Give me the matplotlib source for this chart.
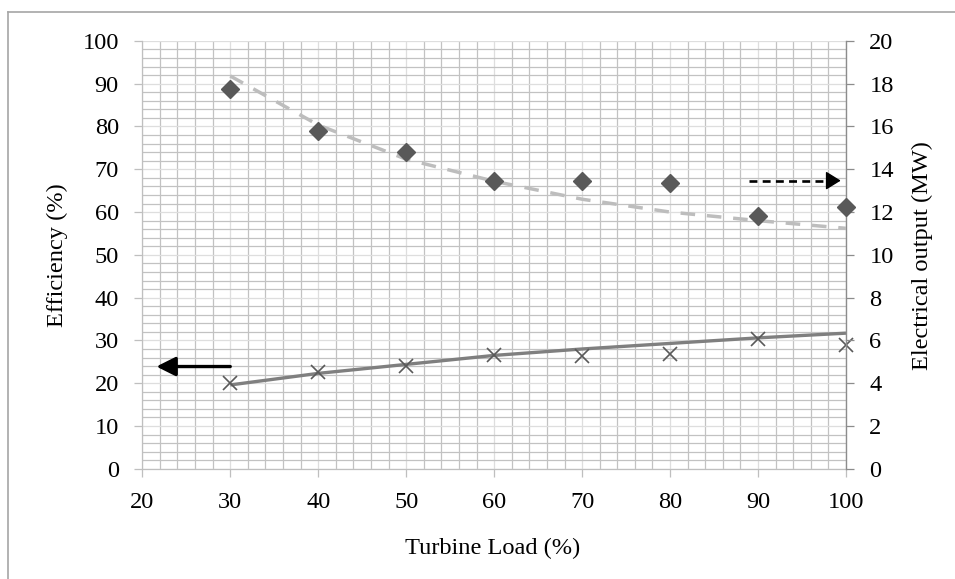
import matplotlib
matplotlib.use("Agg")
import matplotlib.pyplot as plt
from matplotlib.lines import Line2D
from matplotlib.ticker import MultipleLocator

# ---- data -------------------------------------------------------------
turbine_load = [30, 40, 50, 60, 70, 80, 90, 100]          # %
efficiency = [20.1, 22.7, 24.1, 26.6, 26.4, 26.8, 30.3, 28.9]       # %
electrical_output = [17.74, 15.80, 14.82, 13.45, 13.46, 13.35, 11.83, 12.23]  # MW

# trend curves
efficiency_trend = [19.6, 22.3, 24.4, 26.5, 28.0, 29.3, 30.6, 31.7]
output_trend = [18.36, 16.07, 14.47, 13.44, 12.60, 12.00, 11.60, 11.24]

x_ticks = [20, 30, 40, 50, 60, 70, 80, 90, 100]
left_ticks = [0, 10, 20, 30, 40, 50, 60, 70, 80, 90, 100]
right_ticks = [0, 2, 4, 6, 8, 10, 12, 14, 16, 18, 20]

# axis-pointer arrows: (x_start, x_end, y)
eff_arrow = (30, 21.6, 23.9)        # left axis units
out_arrow = (89.0, 99.4, 13.47)     # right axis units

# ---- style ------------------------------------------------------------
plt.rcParams["font.family"] = ["Liberation Serif", "DejaVu Serif"]
FS = 17.6
MARK = "#595959"
MINOR_GRID = "#c2c2c2"
MAJOR_GRID = "#dedede"
AXIS_GREY = "#bfbfbf"

W, H = 955, 579
fig = plt.figure(figsize=(W / 100, H / 100), dpi=100)
fig.patch.set_facecolor("white")

x0, x1 = 142.3, 846.0
y0, y1 = 40.9, 468.8
ax = fig.add_axes([x0 / W, 1 - y1 / H, (x1 - x0) / W, (y1 - y0) / H])
ax2 = ax.twinx()

# left axis / x axis
ax.set_xlim(20, 100)
ax.set_ylim(0, 100)
ax.set_xticks(x_ticks)
ax.set_yticks(left_ticks)
ax.xaxis.set_minor_locator(MultipleLocator(2))
ax.yaxis.set_minor_locator(MultipleLocator(2))
ax.grid(which="minor", color=MINOR_GRID, lw=0.9, zorder=0)
ax.grid(which="major", color=MAJOR_GRID, lw=0.9, zorder=0)
ax.set_axisbelow(True)
ax.tick_params(which="minor", length=0)
ax.tick_params(which="major", direction="out", length=5.8, width=0.9,
               color=AXIS_GREY, labelsize=FS, pad=11.0, labelcolor="black")
for s in ("top", "right"):
    ax.spines[s].set_visible(False)
for s in ("left", "bottom"):
    ax.spines[s].set_color(AXIS_GREY)
    ax.spines[s].set_linewidth(0.9)

# right axis
ax2.set_ylim(0, 20)
ax2.set_yticks(right_ticks)
ax2.tick_params(axis="y", direction="out", length=5.8, width=0.9,
                color="#8c8c8c", labelsize=FS, pad=11.0)
for s in ("top", "left", "bottom"):
    ax2.spines[s].set_visible(False)
ax2.spines["right"].set_color("#8c8c8c")
ax2.spines["right"].set_linewidth(1.0)

# efficiency series (left axis)
ax.plot(turbine_load, efficiency_trend, color="#7f7f7f", lw=2.4,
        solid_capstyle="butt", zorder=3, clip_on=False)
ax.plot(turbine_load, efficiency, linestyle="none", marker="x", ms=10,
        mew=1.2, color=MARK, zorder=4, clip_on=False)

# electrical output series (right axis)
ax2.plot(turbine_load, output_trend, color="#bdbdbd", lw=2.5,
         dashes=(4.2, 3.4), dash_capstyle="butt", zorder=3)
ax2.plot(turbine_load, electrical_output, linestyle="none", marker="D",
         ms=9.5, color=MARK, mec=MARK, zorder=4, clip_on=False)

# arrows pointing to each series' axis
ax.annotate("", xy=(eff_arrow[1], eff_arrow[2]), xytext=(eff_arrow[0], eff_arrow[2]),
            arrowprops=dict(arrowstyle="-|>,head_length=0.4,head_width=0.2",
                            mutation_scale=29, lw=2.4, color="black",
                            shrinkA=0, shrinkB=0), zorder=6)

head_len = 1.5  # data units taken by the arrow head
ax2.plot([out_arrow[0], out_arrow[1] - head_len + 0.1], [out_arrow[2], out_arrow[2]],
         color="black", lw=1.9, dashes=(3.0, 2.0), dash_capstyle="butt", zorder=6)
ax2.annotate("", xy=(out_arrow[1], out_arrow[2]),
             xytext=(out_arrow[1] - head_len, out_arrow[2]),
             arrowprops=dict(arrowstyle="-|>,head_length=0.42,head_width=0.26",
                             mutation_scale=22, lw=1.0, color="black",
                             shrinkA=0, shrinkB=0), zorder=6)

# axis titles
fig.text(57 / W, 1 - 255 / H, "Efficiency (%)", rotation=90, ha="center",
         va="center", fontsize=FS)
fig.text(922 / W, 1 - 256 / H, "Electrical output (MW)", rotation=90,
         ha="center", va="center", fontsize=FS)
fig.text(493 / W, 1 - 548 / H, "Turbine Load (%)", ha="center", va="center",
         fontsize=FS)

# outer chart frame
fig.add_artist(Line2D([8 / W, 8 / W], [1 - 12 / H, 0], transform=fig.transFigure,
                      color="#a6a6a6", lw=1.2))
fig.add_artist(Line2D([8 / W, 1], [1 - 12 / H, 1 - 12 / H], transform=fig.transFigure,
                      color="#a6a6a6", lw=1.2))

fig.savefig("out.png", dpi=100, facecolor="white")
